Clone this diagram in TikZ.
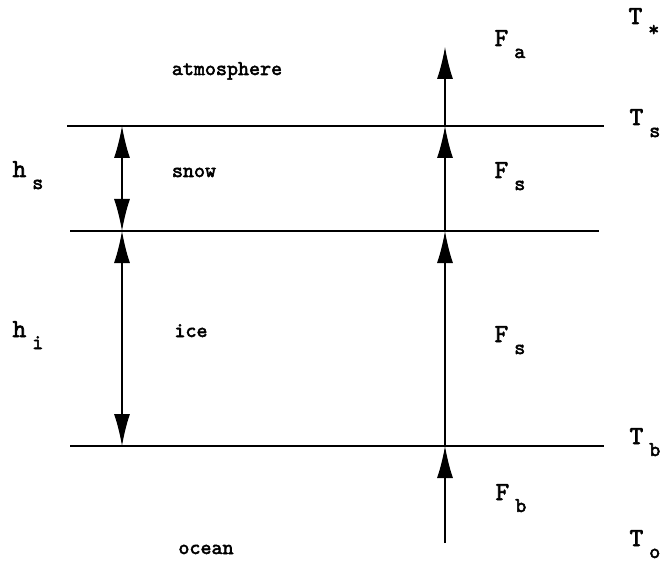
\documentclass[tikz,border=0pt]{standalone}
\usepackage{fontspec}
\usetikzlibrary{arrows.meta}
\newfontfamily\heavymono{lmmono10-regular.otf}[FakeBold=2.5]
\newcommand{\smallmono}{\fontsize{21}{21}\selectfont\heavymono}
\newcommand{\layerlbl}[2]{#1\hspace{6pt}\raisebox{-12pt}{\smallmono #2}}
\tikzset{
  layertext/.style = {font=\smallmono},
  bigtext/.style = {font=\fontsize{26}{26}\selectfont\heavymono, anchor=base west, inner sep=0pt},
  flux/.style = {-{Latex[length=32pt,width=16pt]}},
  thick/.style = {{Latex[length=32pt,width=16pt]}-{Latex[length=32pt,width=16pt]}}
}
\begin{document}
\begin{tikzpicture}[x=1pt,y=-1pt,line width=1.2pt]
    \useasboundingbox (0,0) rectangle (668,569);
    \coordinate (TsL) at (67,126);
    \coordinate (TsR) at (604,126);
    \coordinate (SiL) at (70,231);
    \coordinate (SiR) at (599,231);
    \coordinate (TbL) at (70,446);
    \coordinate (TbR) at (604,446);
    \coordinate (hTop) at (122,126);
    \coordinate (hMid) at (122,231);
    \coordinate (hBot) at (122,446);
    \coordinate (fTop) at (445,47);
    \coordinate (fS) at (445,126);
    \coordinate (fI) at (445,231);
    \coordinate (fB) at (445,446);
    \coordinate (fO) at (445,543);

    % interfaces
    \draw (TsL) -- (TsR);
    \draw (SiL) -- (SiR);
    \draw (TbL) -- (TbR);

    % thicknesses
    \draw[thick] (hTop) -- (hMid);
    \draw[thick] (hMid) -- (hBot);

    % fluxes
    \draw[flux] (fS) -- (fTop);
    \draw[flux] (fI) -- (fS);
    \draw[flux] (fB) -- (fI);
    \draw[flux] (fO) -- (fB);

    % layer names
    \node[layertext, anchor=base] (atm) at (227,75) {atmosphere};
    \node[layertext, anchor=base] (snow) at (194,177) {snow};
    \node[layertext, anchor=base] (ice) at (191,337) {ice};
    \node[layertext, anchor=base] (ocean) at (206,554) {ocean};

    % labels
    \node[bigtext] (Tstar) at (628,24) {\layerlbl{T}{*}};
    \node[bigtext] (Ts) at (629,125) {\layerlbl{T}{s}};
    \node[bigtext] (Tb) at (629,444) {\layerlbl{T}{b}};
    \node[bigtext] (To) at (629,546) {\layerlbl{T}{o}};
    \node[bigtext] (Fa) at (494,46) {\layerlbl{F}{a}};
    \node[bigtext] (Fs1) at (494,178) {\layerlbl{F}{s}};
    \node[bigtext] (Fs2) at (494,342) {\layerlbl{F}{s}};
    \node[bigtext] (Fb) at (495,500) {\layerlbl{F}{b}};
    \node[bigtext] (hs) at (12,177) {\layerlbl{h}{s}};
    \node[bigtext] (hi) at (12,337) {\layerlbl{h}{i}};
\end{tikzpicture}
\end{document}
